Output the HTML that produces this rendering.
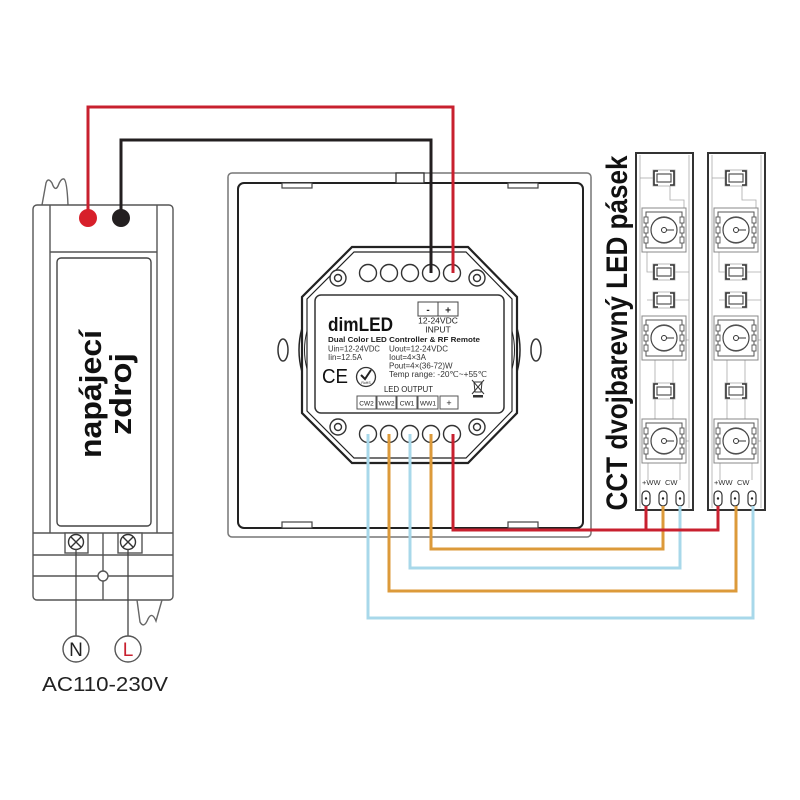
<!DOCTYPE html>
<html><head><meta charset="utf-8">
<style>html,body{margin:0;padding:0;background:#fff}svg{display:block}</style>
</head><body>
<svg width="800" height="800" viewBox="0 0 800 800" xmlns="http://www.w3.org/2000/svg" font-family="'Liberation Sans', sans-serif">
<rect width="800" height="800" fill="#fff"/>

<!-- ========== POWER SUPPLY ========== -->
<g fill="none" stroke="#555" stroke-width="1.4">
  <path d="M42,205 L46,183 Q48,177 52,183 Q55,192 58,186 Q61,178 64,179 Q67,181 68,205" stroke="#666"/>
  <rect x="33" y="205" width="140" height="395" rx="4" fill="#fff"/>
  <line x1="50" y1="205" x2="50" y2="533"/>
  <line x1="157" y1="205" x2="157" y2="533"/>
  <line x1="50" y1="252" x2="157" y2="252"/>
  <rect x="57" y="258" width="94" height="268" rx="4" stroke="#444"/>
  <line x1="33" y1="533" x2="173" y2="533"/>
  <line x1="33" y1="555" x2="173" y2="555"/>
  <line x1="33" y1="576" x2="173" y2="576"/>
  <line x1="103" y1="533" x2="103" y2="600"/>
  <circle cx="103" cy="576" r="5" fill="#fff"/>
  <rect x="65" y="533" width="23" height="20" fill="#fff"/>
  <rect x="118" y="533" width="24" height="20" fill="#fff"/>
  <path d="M137,600 L140,622 Q144,629 148,619 Q152,611 156,621 L162,600" stroke="#666"/>
</g>
<g stroke="#333" stroke-width="1.4" fill="#fff">
  <circle cx="76" cy="542" r="7.5"/>
  <path d="M71,537 L81,547 M81,537 L71,547" fill="none"/>
  <circle cx="128" cy="542" r="7.5"/>
  <path d="M123,537 L133,547 M133,537 L123,547" fill="none"/>
</g>
<line x1="76" y1="549" x2="76" y2="636" stroke="#444" stroke-width="1.3"/>
<line x1="128" y1="549" x2="128" y2="636" stroke="#444" stroke-width="1.3"/>
<circle cx="76" cy="649" r="13" fill="#fff" stroke="#555" stroke-width="1.4"/>
<circle cx="128" cy="649" r="13" fill="#fff" stroke="#555" stroke-width="1.4"/>
<text x="76" y="656" font-size="19" text-anchor="middle" fill="#222">N</text>
<text x="128" y="656" font-size="19" text-anchor="middle" fill="#c8202f">L</text>
<text x="42" y="691" font-size="20" fill="#222" textLength="126" lengthAdjust="spacingAndGlyphs">AC110-230V</text>

<text transform="translate(101,394) rotate(-90)" font-size="31" font-weight="bold" text-anchor="middle" fill="#111" textLength="128" lengthAdjust="spacingAndGlyphs">napájecí</text>
<text transform="translate(131,394) rotate(-90)" font-size="31" font-weight="bold" text-anchor="middle" fill="#111" textLength="82" lengthAdjust="spacingAndGlyphs">zdroj</text>

<!-- ========== WALL PLATE ========== -->
<g fill="none">
  <rect x="228" y="173" width="363" height="364" rx="4" stroke="#777" stroke-width="1.5"/>
  <rect x="238" y="183" width="345" height="345" rx="6" stroke="#222" stroke-width="2"/>
  <rect x="396" y="173" width="28" height="10" fill="#fff" stroke="#333" stroke-width="1.3"/>
  <rect x="282" y="183" width="30" height="5" fill="#fff" stroke="#444" stroke-width="1.2"/>
  <rect x="508" y="183" width="30" height="5" fill="#fff" stroke="#444" stroke-width="1.2"/>
  <rect x="282" y="522" width="30" height="6" fill="#fff" stroke="#444" stroke-width="1.2"/>
  <rect x="508" y="522" width="30" height="6" fill="#fff" stroke="#444" stroke-width="1.2"/>
  <ellipse cx="283" cy="350" rx="5" ry="11" stroke="#333" stroke-width="1.5"/>
  <ellipse cx="536" cy="350" rx="5" ry="11" stroke="#333" stroke-width="1.5"/>
</g>

<!-- ========== CONTROLLER MODULE ========== -->
<g fill="none" stroke="#222">
  <polygon points="352,247 468,247 517,297 517,413 468,463 352,463 302,413 302,297" fill="#fff" stroke-width="2.2"/>
  <polygon points="354,252 466,252 512,299 512,411 466,458 354,458 307,411 307,299" stroke-width="1.2"/>
  <path d="M302,328 Q296,350 302,372" stroke-width="1.5"/>
  <path d="M517,328 Q523,350 517,372" stroke-width="1.5"/>
  <path d="M307,331 Q302,350 307,369" stroke-width="1"/>
  <path d="M512,331 Q517,350 512,369" stroke-width="1"/>
</g>
<g fill="#fff" stroke="#333" stroke-width="1.4">
  <circle cx="338" cy="278" r="8"/><circle cx="338" cy="278" r="3.5"/>
  <circle cx="477" cy="278" r="8"/><circle cx="477" cy="278" r="3.5"/>
  <circle cx="338" cy="427" r="8"/><circle cx="338" cy="427" r="3.5"/>
  <circle cx="477" cy="427" r="8"/><circle cx="477" cy="427" r="3.5"/>
</g>
<g fill="#fff" stroke="#333" stroke-width="1.4">
  <circle cx="368" cy="273" r="8.5"/><circle cx="389" cy="273" r="8.5"/><circle cx="410" cy="273" r="8.5"/><circle cx="431" cy="273" r="8.5"/><circle cx="452" cy="273" r="8.5"/>
  <circle cx="368" cy="434" r="8.5"/><circle cx="389" cy="434" r="8.5"/><circle cx="410" cy="434" r="8.5"/><circle cx="431" cy="434" r="8.5"/><circle cx="452" cy="434" r="8.5"/>
</g>

<!-- label -->
<rect x="315" y="295" width="189" height="118" rx="6" fill="#fff" stroke="#333" stroke-width="1.5"/>
<g fill="#fff" stroke="#444" stroke-width="1">
  <rect x="418" y="302" width="20" height="14"/>
  <rect x="438" y="302" width="20" height="14"/>
</g>
<g fill="#222" font-size="8.5">
  <text x="428" y="313" text-anchor="middle" font-weight="bold" font-size="10">-</text>
  <text x="448" y="313.5" text-anchor="middle" font-weight="bold" font-size="10">+</text>
  <text x="438" y="323.5" text-anchor="middle">12-24VDC</text>
  <text x="438" y="332.5" text-anchor="middle">INPUT</text>
</g>
<text x="328" y="331" font-size="19" font-weight="bold" fill="#111" textLength="65" lengthAdjust="spacingAndGlyphs">dimLED</text>
<text x="328" y="342" font-size="7.5" font-weight="bold" fill="#222" textLength="152" lengthAdjust="spacingAndGlyphs">Dual Color LED Controller &amp; RF Remote</text>
<g font-size="8" fill="#333">
  <text x="328" y="351.5" textLength="52" lengthAdjust="spacingAndGlyphs">Uin=12-24VDC</text>
  <text x="328" y="360">Iin=12.5A</text>
  <text x="389" y="351.5" textLength="59" lengthAdjust="spacingAndGlyphs">Uout=12-24VDC</text>
  <text x="389" y="360">Iout=4×3A</text>
  <text x="389" y="368.5">Pout=4×(36-72)W</text>
  <text x="389" y="377" textLength="98" lengthAdjust="spacingAndGlyphs">Temp range: -20℃~+55℃</text>
  <text x="384" y="392" font-size="8.5" fill="#222" textLength="49" lengthAdjust="spacingAndGlyphs">LED OUTPUT</text>
</g>
<text x="322" y="383" font-size="20" fill="#111" textLength="26" lengthAdjust="spacingAndGlyphs">CE</text>
<circle cx="366" cy="377" r="9.5" fill="#fff" stroke="#333" stroke-width="1.3"/>
<path d="M361,375 L365,379 L371,370" fill="none" stroke="#222" stroke-width="2"/>
<text x="366" y="384" font-size="3.5" text-anchor="middle" fill="#222">RoHS</text>
<g fill="none" stroke="#333" stroke-width="1">
  <path d="M474,382 L482,382 L481,392 L475,392 Z"/>
  <path d="M472,380 L484,394 M484,380 L472,394"/>
</g>
<rect x="473" y="395" width="10" height="2.5" fill="#333"/>
<g fill="#fff" stroke="#555" stroke-width="1">
  <rect x="357" y="396" width="19" height="13"/>
  <rect x="377" y="396" width="19" height="13"/>
  <rect x="397" y="396" width="20" height="13"/>
  <rect x="418" y="396" width="20" height="13"/>
  <rect x="440" y="396" width="18" height="13"/>
</g>
<g font-size="6.5" fill="#222" text-anchor="middle">
  <text x="366.5" y="405.5">CW2</text>
  <text x="386.5" y="405.5">WW2</text>
  <text x="407" y="405.5">CW1</text>
  <text x="428" y="405.5">WW1</text>
  <text x="449" y="406" font-size="9">+</text>
</g>

<!-- ========== LED STRIPS ========== -->
<defs>
  <g id="res">
    <rect x="-11" y="-8" width="22" height="16" fill="#fff" stroke="#aaa" stroke-width="0.8"/>
    <path d="M-6,-7 H-10 V7 H-6 M6,-7 H10 V7 H6" fill="none" stroke="#333" stroke-width="1.6"/>
    <rect x="-7" y="-4" width="14" height="8" fill="#fff" stroke="#444" stroke-width="1.1"/>
  </g>
  <g id="led">
    <rect x="-22" y="-22" width="44" height="44" fill="#fff" stroke="#888" stroke-width="1"/>
    <rect x="-18" y="-18" width="36" height="36" fill="#fff" stroke="#555" stroke-width="1"/>
    <circle r="13" fill="#fff" stroke="#444" stroke-width="1.2"/>
    <rect x="-20" y="-13" width="4" height="6" fill="#fff" stroke="#555" stroke-width="0.9"/>
    <rect x="-20" y="-3" width="4" height="6" fill="#fff" stroke="#555" stroke-width="0.9"/>
    <rect x="-20" y="7" width="4" height="6" fill="#fff" stroke="#555" stroke-width="0.9"/>
    <rect x="16" y="-13" width="4" height="6" fill="#fff" stroke="#555" stroke-width="0.9"/>
    <rect x="16" y="-3" width="4" height="6" fill="#fff" stroke="#555" stroke-width="0.9"/>
    <rect x="16" y="7" width="4" height="6" fill="#fff" stroke="#555" stroke-width="0.9"/>
    <path d="M-8,-10 Q0,-15 8,-10 M-8,10 Q0,15 8,10" fill="none" stroke="#555" stroke-width="1"/>
    <circle r="2.5" fill="#fff" stroke="#333" stroke-width="1"/>
    <line x1="2.5" y1="0" x2="10" y2="0" stroke="#333" stroke-width="1"/>
  </g>
  <g id="strip">
    <rect x="636" y="153" width="57" height="357" fill="#fff" stroke="#333" stroke-width="2"/>
    <g stroke="#aaa" stroke-width="0.8" fill="none">
      <line x1="640" y1="155" x2="640" y2="508"/>
      <line x1="689" y1="155" x2="689" y2="508"/>
      <path d="M640,178 H653"/>
      <path d="M670,186 V200 H684 V210"/>
      <path d="M647,252 V272 H653 M675,272 H689"/>
      <path d="M647,300 H653 M675,300 H689"/>
      <path d="M655,360 V420 M673,360 V420"/>
      <path d="M686,340 H689 M686,441 H689"/>
      <path d="M648,463 V480 M680,463 V480"/>
    </g>
    <use href="#res" x="664" y="178"/>
    <use href="#led" x="664" y="230"/>
    <use href="#res" x="664" y="272"/>
    <use href="#res" x="664" y="300"/>
    <use href="#led" x="664" y="338"/>
    <use href="#res" x="664" y="391"/>
    <use href="#led" x="664" y="441"/>
    <g fill="#fff" stroke="#333" stroke-width="1.2">
      <rect x="642" y="491" width="8" height="15" rx="4"/>
      <rect x="659" y="491" width="8" height="15" rx="4"/>
      <rect x="676" y="491" width="8" height="15" rx="4"/>
    </g>
    <g fill="#222"><circle cx="646" cy="498.5" r="1.2"/><circle cx="663" cy="498.5" r="1.2"/><circle cx="680" cy="498.5" r="1.2"/></g>
  </g>
</defs>
<use href="#strip"/>
<use href="#strip" x="72"/>
<g font-size="7.5" fill="#333">
  <text x="642" y="485">+WW</text><text x="665" y="485">CW</text>
  <text x="714" y="485">+WW</text><text x="737" y="485">CW</text>
</g>

<text transform="translate(627,333) rotate(-90)" font-size="30" font-weight="bold" text-anchor="middle" fill="#111" textLength="355" lengthAdjust="spacingAndGlyphs">CCT dvojbarevný LED pásek</text>

<!-- ========== WIRES ========== -->
<g fill="none" stroke-width="3" stroke-linejoin="miter">
  <path d="M88,218 V107 H453 V273" stroke="#c8202f"/>
  <path d="M121,218 V140 H431 V273" stroke="#231f20"/>
  <path d="M368,434 V618 H753 V506" stroke="#a8d8ea"/>
  <path d="M389,434 V591 H736 V506" stroke="#dc9a3a"/>
  <path d="M410,434 V568 H680 V506" stroke="#a8d8ea"/>
  <path d="M431,434 V549 H663 V506" stroke="#dc9a3a"/>
  <path d="M453,434 V530 H718 V506 M646,530 V506" stroke="#c8202f"/>
</g>
<circle cx="88" cy="218" r="9" fill="#d71f2a"/>
<circle cx="121" cy="218" r="9" fill="#231f20"/>
</svg>
</body></html>
